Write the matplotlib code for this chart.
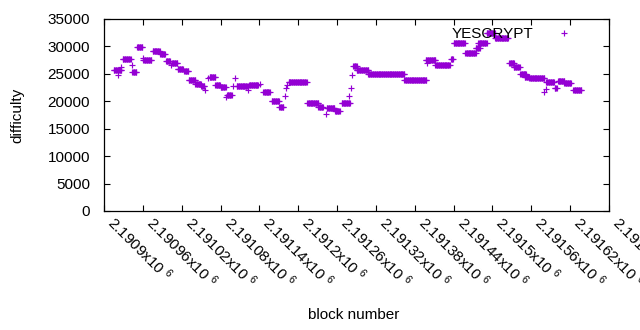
import numpy as np
import matplotlib
matplotlib.use("Agg")
import matplotlib.pyplot as plt

plt.rcParams['font.family'] = ['Liberation Sans', 'DejaVu Sans']
plt.rcParams['mathtext.fontset'] = 'custom'
plt.rcParams['mathtext.rm'] = 'Liberation Sans'
plt.rcParams['mathtext.default'] = 'regular'

# difficulty runs: block range -> difficulty
run_start = [2190915, 2190922, 2190927, 2190929, 2190943, 2190944, 2190951, 2190960,
             2190961, 2190975, 2190987, 2190996, 2191004, 2191005, 2191014, 2191024,
             2191031, 2191041, 2191050, 2191056, 2191060, 2191063, 2191072, 2191080,
             2191089, 2191090, 2191100, 2191103, 2191105, 2191123, 2191124, 2191141,
             2191146, 2191159, 2191171, 2191179, 2191181, 2191182, 2191185, 2191214,
             2191231, 2191243, 2191244, 2191257, 2191267, 2191278, 2191281, 2191283,
             2191285, 2191290, 2191308, 2191364, 2191397, 2191399, 2191412, 2191436,
             2191440, 2191458, 2191474, 2191478, 2191491, 2191504, 2191526, 2191533,
             2191543, 2191550, 2191557, 2191580, 2191582, 2191583, 2191596, 2191601,
             2191611, 2191625]
run_end = [2190927, 2190922, 2190927, 2190941, 2190943, 2190950, 2190959, 2190960,
           2190973, 2190986, 2190994, 2191002, 2191004, 2191013, 2191022, 2191030,
           2191041, 2191050, 2191055, 2191056, 2191060, 2191072, 2191079, 2191088,
           2191089, 2191097, 2191100, 2191103, 2191122, 2191123, 2191138, 2191141,
           2191156, 2191170, 2191177, 2191179, 2191181, 2191182, 2191213, 2191231,
           2191238, 2191243, 2191256, 2191264, 2191280, 2191278, 2191281, 2191283,
           2191290, 2191308, 2191364, 2191398, 2191412, 2191399, 2191434, 2191439,
           2191457, 2191474, 2191480, 2191491, 2191504, 2191524, 2191533, 2191542,
           2191552, 2191557, 2191580, 2191580, 2191582, 2191595, 2191599, 2191611,
           2191621, 2191637]
run_diff = [25650, 24800, 26200, 27750, 26600, 25300, 29850, 27950,
            27500, 29100, 28600, 27300, 26600, 27000, 25900, 25500,
            23800, 23200, 22800, 22050, 24200, 24500, 23050, 22600,
            20700, 21150, 22850, 24300, 22850, 22050, 23050, 23150,
            21700, 20050, 18950, 20950, 22350, 22950, 23550, 19600,
            18950, 17650, 18750, 18200, 19650, 20950, 22500, 24800,
            26400, 25700, 24950, 23800, 27600, 26900, 26550, 27750,
            30550, 28800, 29700, 30700, 32400, 31500, 26950, 26250,
            24900, 24400, 24200, 21750, 22200, 23550, 22400, 23650,
            23350, 22050]

blocks = np.concatenate([np.arange(s, e + 1) for s, e in zip(run_start, run_end)])
difficulty = np.concatenate([[d] * (e - s + 1) for s, e, d in zip(run_start, run_end, run_diff)])

xticks = np.arange(2190900, 2191681, 60)
yticks = np.arange(0, 35001, 5000)
purple = '#9400D3'

fig = plt.figure(figsize=(6.4, 3.3), dpi=100)
ax = fig.add_axes([104 / 640, 1 - 211 / 330, 505 / 640, 192 / 330])

ax.plot(blocks, difficulty, linestyle='none', marker='+', markersize=5,
        markeredgewidth=0.85, color=purple, label='YESCRYPT')

ax.set_xlim(2190900, 2191680)
ax.set_ylim(0, 35000)
ax.set_xticks(xticks)
ax.set_xticklabels([f'{t / 1e6:g}x10 $^{{6}}$' for t in xticks], rotation=-45,
                   ha='left', va='bottom', rotation_mode='anchor', fontsize=11)
ax.set_yticks(yticks)
ax.set_yticklabels([str(v) for v in yticks], fontsize=11)
ax.tick_params(direction='in', length=4, width=0.8, top=True, right=True)
ax.tick_params(axis='x', pad=11)
ax.tick_params(axis='y', pad=10)
for sp in ax.spines.values():
    sp.set_linewidth(0.9)

ax.legend(loc='upper right', bbox_to_anchor=(575 / 640, 1 - 27 / 330),
          bbox_transform=fig.transFigure, frameon=False, markerfirst=False,
          numpoints=1, fontsize=11, handlelength=1.5, handletextpad=1.2,
          borderpad=0, borderaxespad=0)

fig.text(354 / 640, 1 - 315 / 330, 'block number', ha='center', va='center', fontsize=11)
fig.text(17 / 640, 1 - 115 / 330, 'difficulty', ha='center', va='center',
         rotation=90, fontsize=11)

fig.savefig('out.png', dpi=100)
